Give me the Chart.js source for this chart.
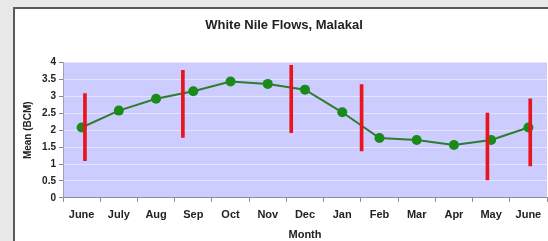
<!DOCTYPE html>
<html>
<head>
<meta charset="utf-8">
<script src="https://cdn.jsdelivr.net/npm/chart.js@4/dist/chart.umd.min.js"></script>
<style>
  html, body { margin: 0; padding: 0; background: #e8e8e8; width: 548px; height: 241px; overflow: hidden; }
  #frame { position: absolute; left: 13px; top: 7px; width: 533px; height: 232px; border-left: 2px solid #5a5a5a; border-top: 2px solid #5a5a5a; background: #ffffff; }
  #wrap { position: absolute; left: 15px; top: 9px; width: 537px; height: 232px; }
</style>
</head>
<body>
<div id="frame"></div>
<div id="wrap"><canvas id="c" width="537" height="232"></canvas></div>
<script>
// Categories (x axis)
const months = ['June', 'July', 'Aug', 'Sep', 'Oct', 'Nov', 'Dec', 'Jan', 'Feb', 'Mar', 'Apr', 'May', 'June'];
// Mean monthly flow (BCM)
const meanFlow = [2.08, 2.58, 2.93, 3.15, 3.44, 3.37, 3.2, 2.53, 1.77, 1.71, 1.56, 1.71, 2.08];
// Range bars: position in month-index units, low and high values
const rangePos = [0.09, 2.72, 5.63, 7.52, 10.9, 12.05];
const rangeLow = [1.1, 1.79, 1.93, 1.39, 0.53, 0.94];
const rangeHigh = [3.08, 3.77, 3.92, 3.35, 2.51, 2.93];
// Y tick range
const yMin = 0, yMax = 4, yStep = 0.5;

const rangeData = rangePos.map((p, i) => ({ x: p, y: [rangeLow[i], rangeHigh[i]] }));

const plotBg = {
  id: 'plotBg',
  beforeDraw(chart) {
    const a = chart.chartArea, ctx = chart.ctx;
    ctx.save();
    ctx.fillStyle = '#ccccff';
    ctx.fillRect(a.left, a.top, a.right - a.left, a.bottom - a.top);
    ctx.restore();
  }
};

const FONT = 'Liberation Sans, Arial, sans-serif';

new Chart(document.getElementById('c'), {
  type: 'line',
  data: {
    labels: months,
    datasets: [
      {
        type: 'line',
        label: 'Mean',
        data: meanFlow,
        xAxisID: 'x',
        borderColor: '#2e7d2e',
        borderWidth: 2,
        pointRadius: 5,
        pointBackgroundColor: '#1a8a1a',
        pointBorderColor: '#1a8a1a',
        pointBorderWidth: 0,
        tension: 0,
        order: 2
      },
      {
        type: 'bar',
        label: 'Range',
        data: rangeData,
        xAxisID: 'x2',
        backgroundColor: '#e8141e',
        borderWidth: 0,
        barThickness: 3,
        grouped: false,
        order: 1
      }
    ]
  },
  options: {
    responsive: false,
    animation: false,
    devicePixelRatio: 1,
    layout: { padding: { left: 1, right: 0, top: 0, bottom: 0 } },
    plugins: {
      legend: { display: false },
      tooltip: { enabled: false },
      title: {
        display: true,
        text: 'White Nile Flows, Malakal',
        color: '#222222',
        font: { family: FONT, size: 13, weight: 'bold' },
        padding: { top: 9, bottom: 29 }
      }
    },
    scales: {
      x: {
        type: 'category',
        offset: true,
        grid: { display: true, offset: true, drawOnChartArea: false, drawTicks: true, tickLength: 4, tickColor: '#888888' },
        border: { display: true, color: '#8a8a9a', width: 1 },
        ticks: { color: '#222222', padding: 7, maxRotation: 0, autoSkip: false, font: { family: FONT, size: 11, weight: 'bold' } },
        title: { display: true, text: 'Month', color: '#222222', padding: { top: 0, bottom: 1 }, font: { family: FONT, size: 11, weight: 'bold', lineHeight: 1 } }
      },
      x2: {
        type: 'linear',
        display: false,
        min: -0.5,
        max: 12.5,
        offset: false
      },
      y: {
        min: yMin,
        max: yMax,
        afterFit(scale) { scale.width = 47; },
        ticks: {
          stepSize: yStep, color: '#222222', padding: 3,
          font: { family: FONT, size: 10, weight: 'bold' },
          callback: (v) => String(Math.round(v * 100) / 100)
        },
        grid: { color: '#e4e4ff', lineWidth: 1, drawTicks: true, tickLength: 4, tickColor: '#888888' },
        border: { display: true, color: '#a0a0b8', width: 1 },
        title: { display: true, text: 'Mean (BCM)', color: '#222222', padding: { top: 6, bottom: 0 }, font: { family: FONT, size: 10, weight: 'bold' } }
      }
    }
  },
  plugins: [plotBg]
});
</script>
</body>
</html>
